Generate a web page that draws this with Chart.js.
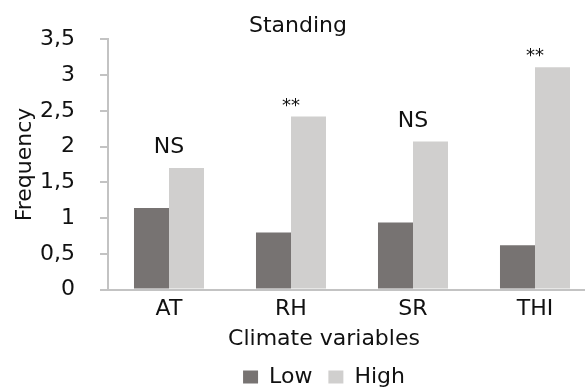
<!DOCTYPE html>
<html>
<head>
<meta charset="utf-8">
<script src="https://cdn.jsdelivr.net/npm/chart.js@4.4.1/dist/chart.umd.min.js"></script>
<style>
  html, body { margin: 0; padding: 0; background: #fff; overflow: hidden; width: 585px; height: 389px; }
  #wrap { position: relative; width: 600px; height: 398px; }
</style>
</head>
<body>
<div id="wrap"><canvas id="myChart"></canvas></div>
<script>
const categorias = ['AT', 'RH', 'SR', 'THI'];
const valoresLow = [1.14, 0.80, 0.94, 0.62];
const valoresHigh = [1.70, 2.42, 2.07, 3.11];
const significancia = ['NS', '**', 'NS', '**'];
const ticksY = [0, 0.5, 1, 1.5, 2, 2.5, 3, 3.5];

const fonte = 'DejaVu Sans';
const corTexto = '#111111';

// texto NS / ** acima de cada par de barras
const pluginSignificancia = {
  id: 'significancia',
  afterDatasetsDraw(chart) {
    const ctx = chart.ctx;
    const x = chart.scales.x;
    const m0 = chart.getDatasetMeta(0);
    const m1 = chart.getDatasetMeta(1);
    ctx.save();
    ctx.fillStyle = corTexto;
    ctx.textAlign = 'center';
    ctx.textBaseline = 'alphabetic';
    for (let i = 0; i < categorias.length; i++) {
      const topo = Math.min(m0.data[i].y, m1.data[i].y);
      const txt = significancia[i];
      if (txt === '**') {
        ctx.font = '18px ' + fonte;
        ctx.fillText(txt, x.getPixelForValue(i), topo - 6);
      } else {
        ctx.font = '22px ' + fonte;
        ctx.fillText(txt, x.getPixelForValue(i), topo - 15);
      }
    }
    ctx.restore();
  }
};

// desloca legenda e titulo do eixo x um pouco para a direita
const pluginDeslocar = {
  id: 'deslocar',
  afterLayout(chart) {
    const d = 26;
    chart.legend.left += d;
    chart.legend.right += d;
    const sub = chart.boxes.find(b => b.options && b.options.text === 'Climate variables');
    if (sub) {
      sub.left += d;
      sub.right += d;
    }
  }
};

function preencherGrafico(label, low, high) {
  const ctx = document.getElementById('myChart');
  new Chart(ctx, {
    type: 'bar',
    data: {
      labels: label,
      datasets: [{
        label: 'Low',
        data: low,
        backgroundColor: '#777372',
        borderWidth: 0
      }, {
        label: 'High',
        data: high,
        backgroundColor: '#d0cfce',
        borderWidth: 0
      }]
    },
    options: {
      responsive: true,
      maintainAspectRatio: false,
      animation: false,
      categoryPercentage: 0.574,
      barPercentage: 1.0,
      layout: { padding: { left: 0, right: 4, top: 0, bottom: 0 } },
      plugins: {
        tooltip: { enabled: false },
        title: {
          display: true,
          text: 'Standing',
          color: corTexto,
          font: { family: fonte, size: 22, weight: 'normal' },
          padding: { top: 13, bottom: 0 }
        },
        subtitle: {
          display: true,
          text: 'Climate variables',
          position: 'bottom',
          weight: 500,
          color: corTexto,
          font: { family: fonte, size: 22, weight: 'normal', lineHeight: 1.0 },
          padding: { top: 0, bottom: 0 }
        },
        legend: {
          position: 'bottom',
          labels: {
            color: corTexto,
            font: { family: fonte, size: 22 },
            boxWidth: 15,
            boxHeight: 13,
            padding: 16
          }
        }
      },
      scales: {
        x: {
          grid: { display: false, drawTicks: false },
          border: { display: true, color: '#c3c3c3', width: 2 },
          ticks: {
            color: corTexto,
            font: { family: fonte, size: 22 },
            padding: 6
          }
        },
        y: {
          min: 0,
          max: 3.5,
          afterFit(scale) { scale.width = 108; },
          afterBuildTicks(scale) { scale.ticks = ticksY.map(v => ({ value: v })); },
          grid: { drawOnChartArea: false, drawTicks: true, tickLength: 8, color: '#c3c3c3', lineWidth: 2 },
          border: { display: true, color: '#c3c3c3', width: 2 },
          ticks: {
            color: corTexto,
            font: { family: fonte, size: 22 },
            padding: 25,
            callback: v => String(v).replace('.', ',')
          },
          title: {
            display: true,
            text: 'Frequency',
            color: corTexto,
            font: { family: fonte, size: 22 },
            padding: { top: 12, bottom: 0 }
          }
        }
      }
    },
    plugins: [pluginSignificancia, pluginDeslocar]
  });
}

preencherGrafico(categorias, valoresLow, valoresHigh);
</script>
</body>
</html>
